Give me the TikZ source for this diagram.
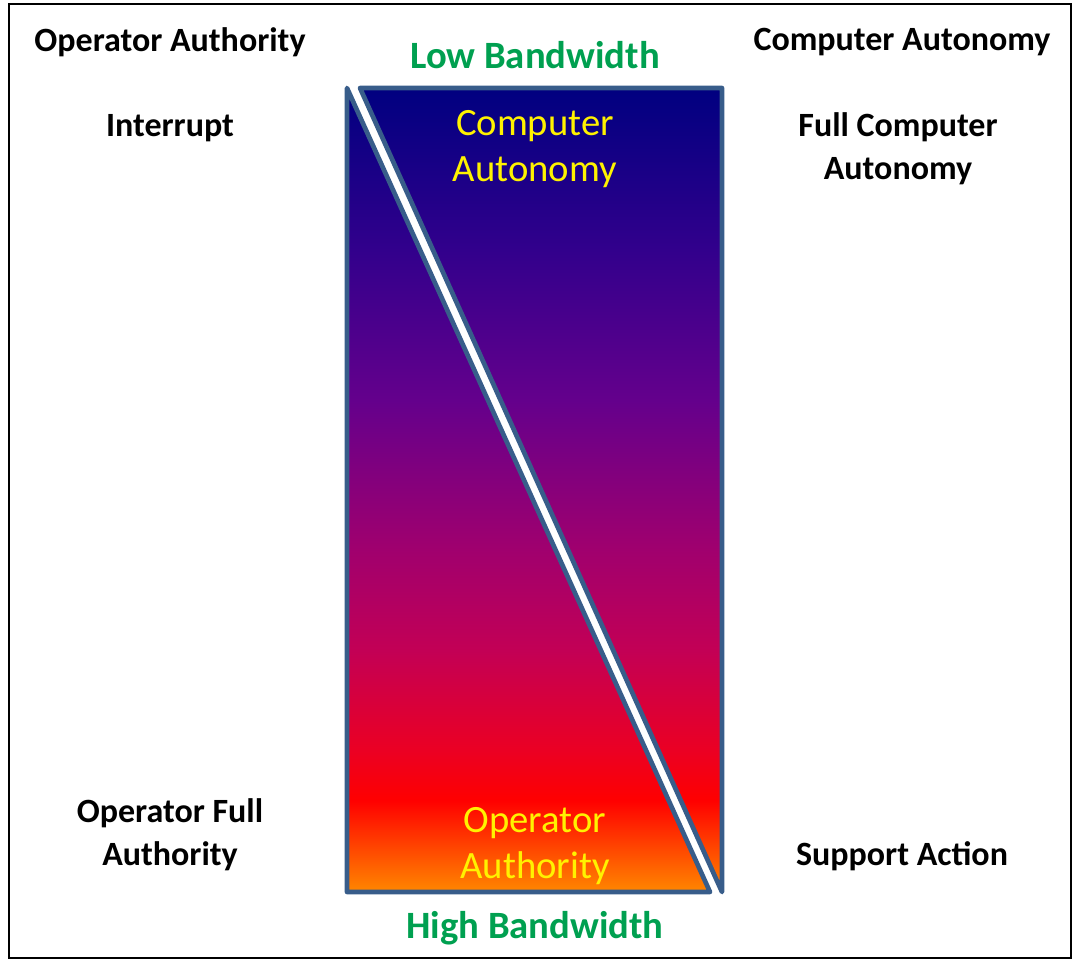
\documentclass[tikz,border=0pt]{standalone}
\usepackage{fontspec}
\setmainfont{Carlito}
\definecolor{edgeblue}{RGB}{56,93,138}
\definecolor{bandgreen}{RGB}{0,160,80}
\definecolor{g0}{RGB}{255,135,0}
\definecolor{g1}{RGB}{255,0,0}
\definecolor{g2}{RGB}{235,0,35}
\definecolor{g3}{RGB}{195,0,85}
\definecolor{g4}{RGB}{160,0,110}
\definecolor{g5}{RGB}{100,0,140}
\definecolor{g6}{RGB}{50,0,140}
\definecolor{g7}{RGB}{0,0,128}
\pgfdeclareverticalshading{firegrad}{100bp}{color(0bp)=(g0); color(25bp)=(g0);
  color(30.7bp)=(g1); color(33.8bp)=(g2); color(40bp)=(g3); color(46.3bp)=(g4);
  color(55.6bp)=(g5); color(64.9bp)=(g6); color(75bp)=(g7); color(100bp)=(g7)}
\begin{document}
\begin{tikzpicture}[x=0.75pt,y=0.75pt,yscale=-1,xscale=1,
  label/.style={font=\bfseries\fontsize{25.5}{32}\selectfont,align=center,inner sep=0pt},
  band/.style={font=\bfseries\fontsize{29}{35}\selectfont,text=bandgreen,inner sep=0pt},
  inside/.style={font=\fontsize{29}{35}\selectfont,text=yellow,align=center,inner sep=0pt},
  half/.style={shading=firegrad,draw=edgeblue,line width=3.5pt,line join=round}]
\useasboundingbox (0,0) rectangle (1073,960);
%Frame
\draw [line width=1.5pt] (9,4) rectangle (1071,958) ;
%Shape: Right Triangle [id:upper]
\path [half] (360,88) -- (722,88) -- (722,892) -- cycle ;
%Shape: Right Triangle [id:lower]
\path [half] (347,88) -- (347,892) -- (710,892) -- cycle ;

% Text Node
\node [label] (opauth) at (170,42) {Operator Authority};
% Text Node
\node [label] (compaut) at (902,42) {Computer Autonomy};
% Text Node
\node [band] (lowbw) at (535,55) {Low Bandwidth};
% Text Node
\node [band] (highbw) at (535,928) {High Bandwidth};
% Text Node
\node [label] (interrupt) at (170,128) {Interrupt};
% Text Node
\node [label] (fullcomp) at (898,149) {Full Computer\\Autonomy};
% Text Node
\node [inside] (incomp) at (535,149) {Computer\\Autonomy};
% Text Node
\node [label] (opfull) at (170,835) {Operator Full\\Authority};
% Text Node
\node [label] (support) at (902,856) {Support Action};
% Text Node
\node [inside] (inop) at (535,846) {Operator\\Authority};
\end{tikzpicture}
\end{document}
